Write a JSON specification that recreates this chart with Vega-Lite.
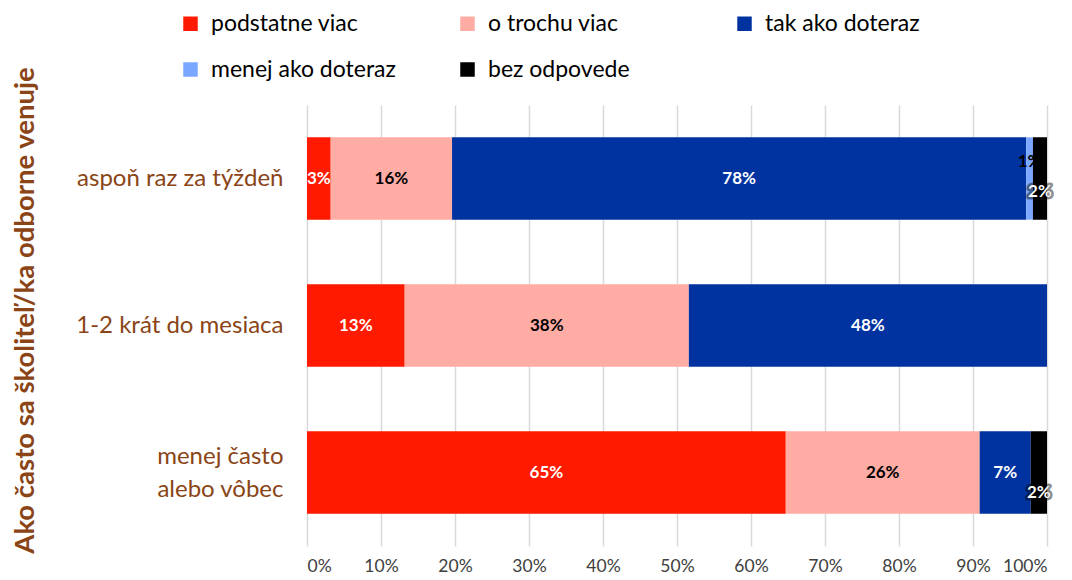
{
  "$schema": "https://vega.github.io/schema/vega-lite/v6.json",
  "width": 740,
  "height": 441,
  "autosize": {"type": "none"},
  "padding": {"left": 307, "top": 105, "right": 25, "bottom": 34},
  "background": "white",
  "config": {
    "view": {"stroke": null},
    "font": "Lato",
    "text": {"font": "Lato"}
  },
  "data": {
    "values": [
      {"cat": "aspoň raz za týždeň", "resp": "podstatne viac", "o": 1, "v": 0.032},
      {"cat": "aspoň raz za týždeň", "resp": "o trochu viac", "o": 2, "v": 0.164},
      {"cat": "aspoň raz za týždeň", "resp": "tak ako doteraz", "o": 3, "v": 0.776},
      {"cat": "aspoň raz za týždeň", "resp": "menej ako doteraz", "o": 4, "v": 0.009},
      {"cat": "aspoň raz za týždeň", "resp": "bez odpovede", "o": 5, "v": 0.019},
      {"cat": "1-2 krát do mesiaca", "resp": "podstatne viac", "o": 1, "v": 0.132},
      {"cat": "1-2 krát do mesiaca", "resp": "o trochu viac", "o": 2, "v": 0.384},
      {"cat": "1-2 krát do mesiaca", "resp": "tak ako doteraz", "o": 3, "v": 0.484},
      {"cat": "menej často alebo vôbec", "resp": "podstatne viac", "o": 1, "v": 0.647},
      {"cat": "menej často alebo vôbec", "resp": "o trochu viac", "o": 2, "v": 0.262},
      {"cat": "menej často alebo vôbec", "resp": "tak ako doteraz", "o": 3, "v": 0.069},
      {"cat": "menej často alebo vôbec", "resp": "bez odpovede", "o": 5, "v": 0.022}
    ]
  },
  "transform": [
    {"stack": "v", "groupby": ["cat"], "sort": [{"field": "o", "order": "ascending"}], "as": ["v0", "v1"]},
    {"calculate": "(datum.v0 + datum.v1) / 2", "as": "mid"}
  ],
  "encoding": {
    "y": {
      "field": "cat",
      "type": "nominal",
      "sort": ["aspoň raz za týždeň", "1-2 krát do mesiaca", "menej často alebo vôbec"],
      "scale": {"paddingInner": 0.44, "paddingOuter": 0.22},
      "axis": {
        "title": "Ako často sa školiteľ/ka odborne venuje",
        "titleFont": "Lato",
        "titleFontSize": 27.5,
        "titleFontWeight": "bold",
        "titleColor": "#8a4416",
        "titleX": -282,
        "titleY": 205,
        "titleAlign": "center",
        "titleBaseline": "middle",
        "labelFont": "Lato",
        "labelFontSize": 24,
        "labelColor": "#8a4416",
        "labelPadding": 24,
        "labelLineHeight": 33,
        "labelOffset": {"condition": {"test": "datum.value == 'menej často alebo vôbec'", "value": -16}, "value": 0},
        "labelExpr": "datum.label == 'menej často alebo vôbec' ? ['menej často', 'alebo vôbec'] : datum.label",
        "ticks": false,
        "domain": false,
        "labelLimit": 300
      }
    }
  },
  "layer": [
    {
      "mark": {"type": "bar"},
      "encoding": {
        "x": {
          "field": "v0",
          "type": "quantitative",
          "scale": {"domain": [0, 1], "nice": false},
          "axis": {
            "format": ".0%",
            "values": [0, 0.1, 0.2, 0.3, 0.4, 0.5, 0.6, 0.7, 0.8, 0.9, 1],
            "title": null,
            "grid": true,
            "gridColor": "#d9d9d9",
            "gridWidth": 1.5,
            "domain": false,
            "ticks": false,
            "labelFont": "Lato",
            "labelFontSize": 17.5,
            "labelColor": "#404040",
            "labelPadding": 11
          }
        },
        "x2": {"field": "v1"},
        "color": {
          "field": "resp",
          "type": "nominal",
          "scale": {
            "domain": ["podstatne viac", "o trochu viac", "tak ako doteraz", "menej ako doteraz", "bez odpovede"],
            "range": ["#ff1a00", "#ffaca5", "#0033a0", "#7aa7ff", "#000000"]
          },
          "legend": {
            "title": null,
            "orient": "none",
            "legendX": -128,
            "legendY": -93,
            "direction": "horizontal",
            "columns": 3,
            "gridAlign": "all",
            "columnPadding": 60,
            "rowPadding": 22,
            "symbolType": "square",
            "symbolSize": 210,
            "symbolStrokeWidth": 0,
            "symbolOpacity": 1,
            "labelFont": "Lato",
            "labelFontSize": 23,
            "labelColor": "#000000",
            "labelOffset": 9,
            "labelLimit": 300
          }
        }
      }
    },
    {
      "transform": [{"filter": "datum.resp != 'menej ako doteraz' && datum.resp != 'bez odpovede'"}],
      "mark": {"type": "text", "font": "Lato", "fontSize": 17, "fontWeight": "bold", "baseline": "middle"},
      "encoding": {
        "x": {"field": "mid", "type": "quantitative"},
        "text": {"field": "v", "type": "quantitative", "format": ".0%"},
        "color": {
          "condition": {"test": "datum.resp == 'o trochu viac'", "value": "#000000"},
          "value": "#ffffff"
        }
      }
    },
    {
      "transform": [{"filter": "datum.resp == 'menej ako doteraz'"}],
      "mark": {"type": "text", "font": "Lato", "fontSize": 17, "fontWeight": "bold", "baseline": "middle", "dy": -17, "color": "#000000"},
      "encoding": {
        "x": {"field": "mid", "type": "quantitative"},
        "text": {"field": "v", "type": "quantitative", "format": ".0%"}
      }
    },
    {
      "transform": [{"filter": "datum.resp == 'bez odpovede' && datum.cat == 'aspoň raz za týždeň'"}],
      "mark": {"type": "text", "font": "Lato", "fontSize": 17, "fontWeight": "bold", "baseline": "middle", "dy": 13, "stroke": "#000000", "strokeWidth": 5, "strokeOpacity": 0.45, "strokeJoin": "round", "fill": "#000000"},
      "encoding": {
        "x": {"field": "mid", "type": "quantitative"},
        "text": {"field": "v", "type": "quantitative", "format": ".0%"}
      }
    },
    {
      "transform": [{"filter": "datum.resp == 'bez odpovede' && datum.cat == 'aspoň raz za týždeň'"}],
      "mark": {"type": "text", "font": "Lato", "fontSize": 17, "fontWeight": "bold", "baseline": "middle", "dy": 13, "color": "#ffffff"},
      "encoding": {
        "x": {"field": "mid", "type": "quantitative"},
        "text": {"field": "v", "type": "quantitative", "format": ".0%"}
      }
    },
    {
      "transform": [{"filter": "datum.resp == 'bez odpovede' && datum.cat != 'aspoň raz za týždeň'"}],
      "mark": {"type": "text", "font": "Lato", "fontSize": 17, "fontWeight": "bold", "baseline": "middle", "dy": 20, "stroke": "#000000", "strokeWidth": 5, "strokeOpacity": 0.45, "strokeJoin": "round", "fill": "#000000"},
      "encoding": {
        "x": {"field": "mid", "type": "quantitative"},
        "text": {"field": "v", "type": "quantitative", "format": ".0%"}
      }
    },
    {
      "transform": [{"filter": "datum.resp == 'bez odpovede' && datum.cat != 'aspoň raz za týždeň'"}],
      "mark": {"type": "text", "font": "Lato", "fontSize": 17, "fontWeight": "bold", "baseline": "middle", "dy": 20, "color": "#ffffff"},
      "encoding": {
        "x": {"field": "mid", "type": "quantitative"},
        "text": {"field": "v", "type": "quantitative", "format": ".0%"}
      }
    }
  ]
}
